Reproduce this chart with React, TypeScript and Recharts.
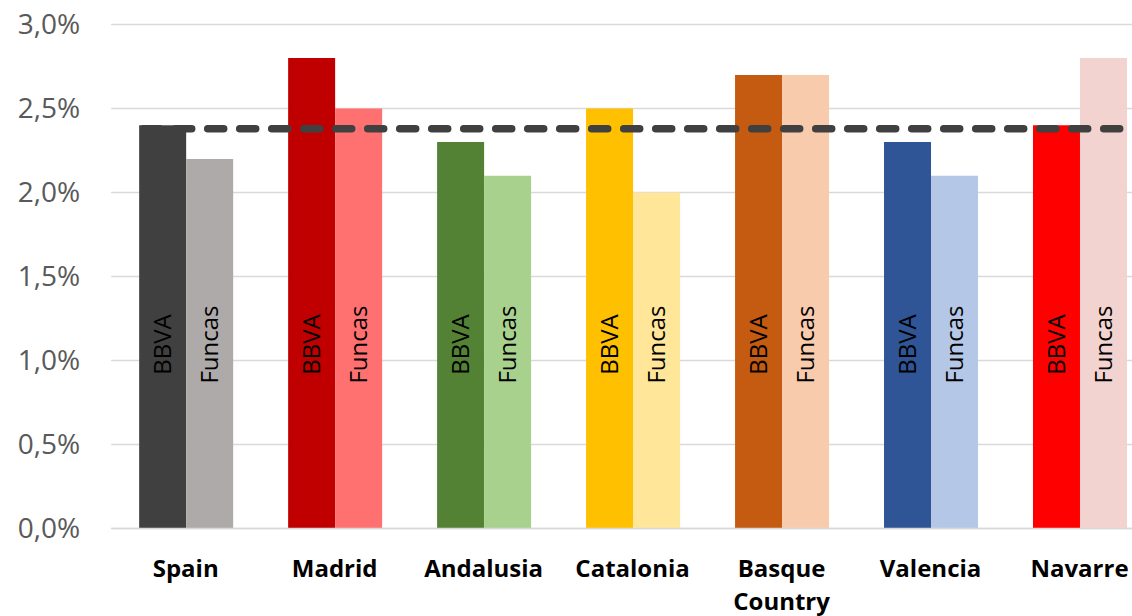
import React from 'react'
import {
  BarChart, Bar, XAxis, YAxis, CartesianGrid, ReferenceLine, Cell, LabelList,
} from 'recharts'

const categories = ['Spain', 'Madrid', 'Andalusia', 'Catalonia', 'Basque Country', 'Valencia', 'Navarre']
const bbva = [2.4, 2.8, 2.3, 2.5, 2.7, 2.3, 2.4]
const funcas = [2.2, 2.5, 2.1, 2.0, 2.7, 2.1, 2.8]
const spainAverage = 2.38
const yTicks = [0, 0.5, 1, 1.5, 2, 2.5, 3]

const BBVA_COLORS = ['#404040', '#C00000', '#548235', '#FFC000', '#C55A11', '#2F5597', '#FF0000']
const FUNCAS_COLORS = ['#AEAAAA', '#FF7171', '#A9D18E', '#FFE699', '#F8CBAD', '#B4C7E7', '#F2D3CF']

const data = categories.map((name, i) => ({ name, bbva: bbva[i], funcas: funcas[i] }))

const FONT = '"Open Sans", "Noto Sans", sans-serif'

const fmtPct = (v: number) => v.toFixed(1).replace('.', ',') + '%'

function XTick(props: any) {
  const { x, y, payload } = props
  const words = String(payload.value).split(' ')
  return (
    <text x={x} y={y + 48.5} textAnchor="middle" fontFamily={FONT} fontSize={24} fontWeight={700} fill="#000">
      {words.map((w, i) => (
        <tspan key={i} x={x} dy={i === 0 ? 0 : 33}>{w}</tspan>
      ))}
    </text>
  )
}

// series name written upright inside each bar, at a fixed height above the base
const barName = (label: string) => (props: any) => {
  const vb = props.viewBox ?? props
  const { x, y, width, height } = vb
  const cx = x + width / 2
  const cy = y + height - 184
  return (
    <text
      transform={`translate(${cx},${cy}) rotate(-90)`}
      x={0} y={8.6}
      textAnchor="middle"
      fontFamily={FONT} fontSize={24} fill="#000"
    >
      {label}
    </text>
  )
}

function DashedAverage(props: any) {
  const { x1, y1, x2, y2 } = props
  return (
    <line
      x1={x1 + 32.5} y1={y1} x2={x2 - 34} y2={y2}
      stroke="#404040" strokeWidth={7.5} strokeDasharray="16 16" strokeLinecap="round"
    />
  )
}

export default function App() {
  return (
    <div style={{ position: 'absolute', left: 0, top: 0, width: 1132, height: 616, overflow: 'hidden', background: '#fff' }}>
      <BarChart
        width={1154}
        height={616}
        data={data}
        margin={{ top: 24.5, right: 0, bottom: 0, left: 0 }}
        barCategoryGap="18.77%"
        barGap={0}
      >
        <CartesianGrid vertical={false} stroke="#D9D9D9" strokeWidth={1.5} />
        <XAxis
          dataKey="name"
          height={87.5}
          axisLine={{ stroke: '#D9D9D9', strokeWidth: 1.5 }}
          tickLine={false}
          tickSize={0}
          tickMargin={0}
          interval={0}
          tick={<XTick />}
        />
        <YAxis
          width={111.2}
          domain={[0, 3]}
          ticks={yTicks}
          tickFormatter={fmtPct}
          axisLine={false}
          tickLine={false}
          tickSize={0}
          tickMargin={31}
          tick={{ fontFamily: FONT, fontSize: 28, fill: '#595959' }}
        />
        <Bar dataKey="bbva" isAnimationActive={false}>
          {data.map((_, i) => <Cell key={i} fill={BBVA_COLORS[i]} />)}
          <LabelList dataKey="bbva" content={barName('BBVA')} />
        </Bar>
        <Bar dataKey="funcas" isAnimationActive={false}>
          {data.map((_, i) => <Cell key={i} fill={FUNCAS_COLORS[i]} />)}
          <LabelList dataKey="funcas" content={barName('Funcas')} />
        </Bar>
        <ReferenceLine y={spainAverage} shape={DashedAverage} />
      </BarChart>
    </div>
  )
}
